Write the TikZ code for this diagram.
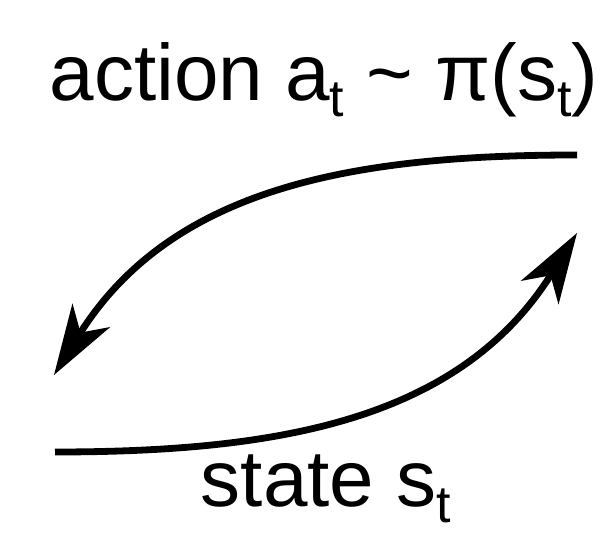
\documentclass[tikz,border=0pt]{standalone}
\usepackage{fontspec}
\setmainfont{Liberation Sans}
\usetikzlibrary{arrows.meta}
\newcommand\lowsub[1]{\raisebox{-16pt}{\fontsize{52}{52}\selectfont #1}}

\begin{document}
\begin{tikzpicture}[x=1pt,y=1pt,>={Stealth[length=70pt,width=44pt,inset=20pt]},
 flow/.style={line width=6.8pt},
 lbl/.style={font=\fontsize{80}{94}\selectfont,inner sep=0pt}]
\useasboundingbox (0,0) rectangle (612,537);
\node[lbl,anchor=base] (act) at (324,436) {action a\lowsub{t} \textasciitilde\ π(s\lowsub{t})};
\node[lbl,anchor=base] (st) at (326,30) {state s\lowsub{t}};
\coordinate (aR) at (577,382);
\coordinate (aL) at (54,162);
\coordinate (sL) at (55,85);
\coordinate (sR) at (577,304);
\draw[flow,->] (aR) to[out=180,in=58] (aL);
\draw[flow,->] (sL) to[out=0,in=238] (sR);
\end{tikzpicture}
\end{document}
